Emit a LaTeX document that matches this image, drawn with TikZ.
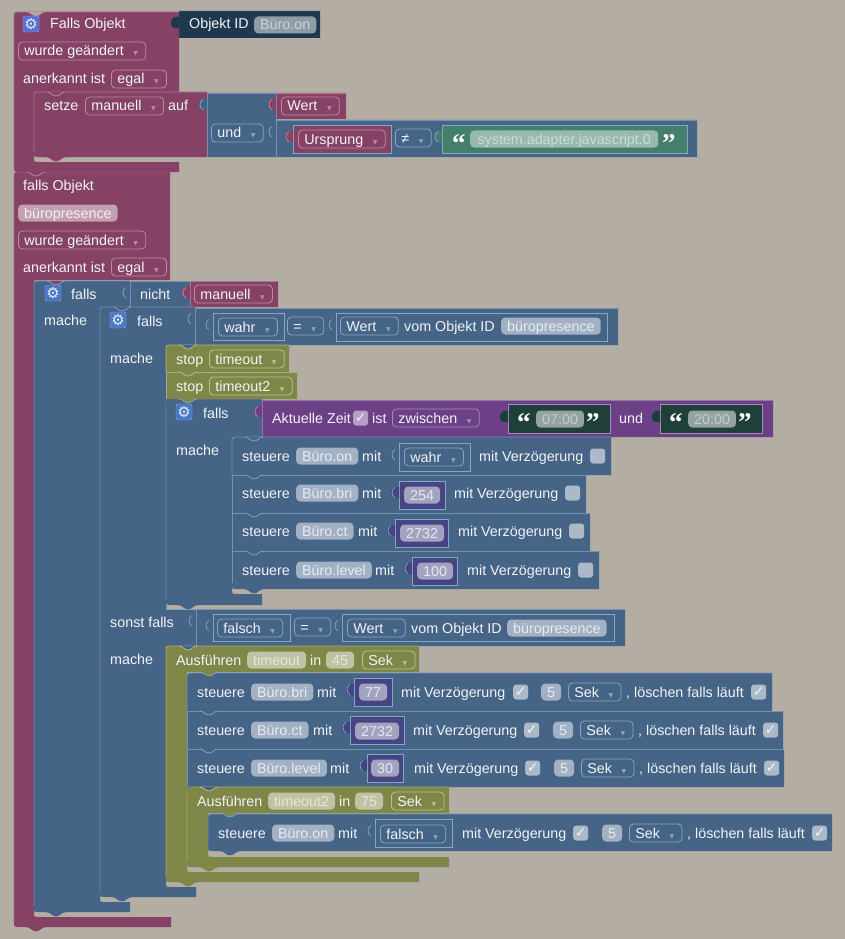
\documentclass[tikz,border=0pt]{standalone}
\usepackage{fontspec}
\setmainfont{Liberation Sans}
\newfontfamily\symfont{DejaVu Sans}
\newfontfamily\quotefont{Liberation Serif}[BoldFont={Liberation Serif Bold}]
\definecolor{bgc}{HTML}{B3ADA3}
\definecolor{mrn}{HTML}{854264}
\definecolor{mrnhi}{HTML}{B98CA3}
\definecolor{blu}{HTML}{456486}
\definecolor{bluhi}{HTML}{86A6C6}
\definecolor{oli}{HTML}{7F8748}
\definecolor{olihi}{HTML}{BCC08E}
\definecolor{nvy}{HTML}{1F3850}
\definecolor{nvyhi}{HTML}{2A4560}
\definecolor{pur}{HTML}{6C4087}
\definecolor{purhi}{HTML}{A68ABB}
\definecolor{grn}{HTML}{437F6B}
\definecolor{dgr}{HTML}{1F4039}
\definecolor{ind}{HTML}{454584}
\definecolor{ddarrow}{HTML}{86A6C6}
\definecolor{gearm}{HTML}{5A6FCF}
\definecolor{gearb}{HTML}{4A78C4}
\newcommand{\ddmark}{\hspace{8pt}\makebox[8pt]{\textcolor{ddarrow}{\symfont\fontsize{6}{6}\selectfont ▼}}}
\tikzset{
  every node/.append style={font=\fontsize{14.3}{16}\selectfont},
  lbl/.style={anchor=west,inner sep=0pt,text=white!93!blu,text height=11.5pt,text depth=1.5pt},
  ddown/.style={anchor=west,inner xsep=6pt,inner ysep=2.5pt,rounded corners=4pt,draw=#1,line width=0.8pt,
    text=white!93!blu,text height=11.5pt,text depth=1.5pt,execute at begin node={\colorlet{ddarrow}{#1}}},
  chip/.style 2 args={anchor=west,inner xsep=6pt,inner ysep=2pt,rounded corners=4pt,fill=#1,text=#2,text height=11.5pt,text depth=1.5pt},
  chk/.style={anchor=west,minimum size=15pt,inner sep=0pt,rounded corners=3pt,fill=#1,text=white!85!#1,font=\symfont\fontsize{14}{14}\selectfont},
  gear/.style={minimum size=16pt,inner sep=0pt,rounded corners=2pt,fill=#1,draw=white!35!#1,text=white!85!#1,font=\symfont\fontsize{15}{15}\selectfont},
  quote/.style={anchor=base west,inner sep=0pt,text=white,font=\quotefont\bfseries\fontsize{27}{27}\selectfont}
}
\colorlet{chipblu}{white!50!blu}
\colorlet{chipmrn}{white!50!mrn}
\colorlet{chipoli}{white!50!oli}
\colorlet{chipind}{white!50!ind}
\colorlet{chipnvy}{white!50!nvy}
\colorlet{chipgrn}{white!45!grn}
\colorlet{chipdgr}{white!52!dgr}
\colorlet{chkblu}{white!55!blu}
\colorlet{chkpur}{white!50!pur}
\tikzset{
  chbl/.style={chip={chipblu}{white!75!chipblu}},
  chmr/.style={chip={chipmrn}{white!85!chipmrn}},
  chol/.style={chip={chipoli}{white!60!chipoli}},
  chin/.style={chip={chipind}{white!75!chipind}},
  chnv/.style={chip={chipnvy}{white!55!chipnvy}},
  chgr/.style={chip={chipgrn}{white!50!chipgrn}},
  chdg/.style={chip={chipdgr}{white!45!chipdgr}}
}
% block with a statement input: colour, x1, y1, top right, top bottom, column x, bar top, bar right, bar bottom
\newcommand{\cblock}[9]{
  \fill [#1] (#2,#3+6) .. controls (#2,#3) .. (#2+6,#3) -- (#4,#3) -- (#4,#5) -- (#6,#5) -- (#6,#7-5)
    .. controls (#6,#7) .. (#6+5,#7) -- (#8,#7) -- (#8,#9) -- (#2+6,#9) .. controls (#2,#9) .. (#2,#9-6) -- cycle;
  \draw [#1hi!60!#1,line width=0.8pt] (#2,#9-6) -- (#2,#3+6) .. controls (#2,#3) .. (#2+6,#3) -- (#4,#3);
  \draw [#1hi!60!#1,line width=0.8pt] (#6,#5) -- (#6,#7-5);
}
% plain row: colour, x1, y1, x2, y2, top corner, bottom corner
\newcommand{\rowblock}[7]{
  \fill [#1] (#2,#3+#6) .. controls (#2,#3) .. (#2+#6,#3) -- (#4,#3) -- (#4,#5) -- (#2+#7,#5) .. controls (#2,#5) .. (#2,#5-#7) -- cycle;
  \draw [#1hi!70!#1,line width=0.8pt] (#2,#5-#7) -- (#2,#3+#6) .. controls (#2,#3) .. (#2+#6,#3) -- (#4,#3);
}
% value box: fill, stroke, x1, y1, x2, y2
\newcommand{\vblock}[6]{
  \filldraw [fill=#1,draw=#2,line width=0.8pt] (#3,#4) rectangle (#5,#6);
}
% left plug of a value: fill, stroke, x, y
\newcommand{\plug}[4]{
  \fill [#1] (#3,#4-7) .. controls (#3-6,#4-8) and (#3-8,#4-5) .. (#3-8,#4-1) .. controls (#3-8,#4+3) and (#3-6,#4+5) .. (#3,#4+4) -- cycle;
  \draw [#2,line width=0.7pt] (#3-4,#4-6.5) .. controls (#3-8,#4-5) and (#3-8,#4+2) .. (#3-4,#4+4);
}
% bump under a block: fill, stroke, centre x, y
\newcommand{\tabbump}[4]{
  \fill [#1] (#3-9,#4) .. controls (#3-5,#4) and (#3-4,#4+4) .. (#3,#4+4) .. controls (#3+4,#4+4) and (#3+5,#4) .. (#3+9,#4) -- cycle;
  \draw [#2,line width=0.7pt] (#3-9,#4) .. controls (#3-5,#4) and (#3-4,#4+4) .. (#3,#4+4) .. controls (#3+4,#4+4) and (#3+5,#4) .. (#3+9,#4);
}
\begin{document}
\begin{tikzpicture}[x=1pt,y=-1pt]
\useasboundingbox (0,0) rectangle (845,939);
\fill [bgc] (0,0) rectangle (845,939);
% second trigger
\cblock{mrn}{14}{172}{170}{280}{34}{917}{171}{927}
\tabbump{mrn}{mrn}{36}{927}
\node [lbl] (fallsObj) at (23,185) {falls Objekt};
\node [chmr] (chipPres) at (18,213) {büropresence};
\node [ddown=mrnhi] (ddGeaend2) at (18,240) {wurde geändert\ddmark};
\node [lbl] (anerk2) at (23,267) {anerkannt ist};
\node [ddown=mrnhi] (ddEgal2) at (111,267) {egal\ddmark};
% first trigger
\cblock{mrn}{14}{12}{179}{92}{34}{162}{179}{172}
\tabbump{bgc}{mrnhi}{36}{12}
\tabbump{mrn}{mrnhi}{36}{172}
\node [gear=gearm] (gearA) at (31,24) {⚙};
\node [lbl] (fallsA) at (50,24) {Falls Objekt};
\rowblock{nvy}{179}{11}{320}{38}{0}{0}
\plug{nvy}{nvy}{179}{24}
\node [lbl] (objId) at (189,24) {Objekt ID};
\node [chnv] (chipOn) at (254,25) {Büro.on};
\node [ddown=mrnhi] (ddGeaend1) at (18,51) {wurde geändert\ddmark};
\node [lbl] (anerk1) at (23,79) {anerkannt ist};
\node [ddown=mrnhi] (ddEgal1) at (111,79) {egal\ddmark};
\rowblock{mrn}{34}{92}{207}{157}{6}{6}
\tabbump{mrn}{mrnhi}{56}{92}
\tabbump{mrn}{mrn}{56}{157}
\node [lbl] (setze) at (44,106) {setze};
\node [ddown=mrnhi] (ddManuell1) at (85,106) {manuell\ddmark};
\node [lbl] (auf) at (168,106) {auf};
\rowblock{blu}{207}{93}{276}{157}{0}{0}
\plug{blu}{bluhi}{207}{106}
\node [ddown=bluhi] (ddUnd) at (211,133) {und\ddmark};
\rowblock{mrn}{276}{93}{346}{119}{0}{0}
\plug{mrn}{mrnhi}{276}{106}
\node [ddown=mrnhi] (ddWert1) at (281,106) {Wert\ddmark};
\rowblock{blu}{276}{120}{697}{157}{0}{0}
\plug{blu}{bluhi}{276}{133}
\vblock{mrn}{bluhi}{293}{125}{391}{153}
\plug{mrn}{mrnhi}{293}{138}
\node [ddown=mrnhi] (ddUrsprung) at (298,139) {Ursprung\ddmark};
\node [ddown=bluhi] (ddNe) at (395,138) {≠\ddmark};
\vblock{grn}{bluhi}{442}{125}{687}{153}
\plug{grn}{bluhi}{442}{138}
\node [quote] (qA1) at (452,152) {“};
\node [chgr,minimum width=188pt] (chipSys) at (470,139) {system.adapter.javascript.0};
\node [quote] (qA2) at (662,152) {”};
% outer falls
\cblock{blu}{34}{281}{130}{307}{100}{902}{130}{912}
\tabbump{mrn}{bluhi}{56}{281}
\tabbump{blu}{blu}{56}{912}
\node [gear=gearb] (gearB) at (53,293) {⚙};
\node [lbl] (fallsB) at (71,294) {falls};
\rowblock{blu}{130}{281}{190}{307}{0}{0}
\plug{blu}{bluhi}{130}{294}
\node [lbl] (nicht) at (140,294) {nicht};
\rowblock{mrn}{190}{281}{278}{307}{0}{0}
\plug{mrn}{mrnhi}{190}{294}
\node [ddown=mrnhi] (ddManuell2) at (194,294) {manuell\ddmark};
\node [lbl] (macheB) at (44,320) {mache};
% middle falls
\cblock{blu}{100}{307}{195}{345}{166}{887}{196}{897}
\tabbump{blu}{bluhi}{122}{307}
\tabbump{blu}{blu}{122}{897}
\fill [blu] (166,609) rectangle (196,646);
\draw [bluhi,line width=0.8pt] (166,609) -- (196,609);
\node [gear=gearb] (gearC) at (118,320) {⚙};
\node [lbl] (fallsC) at (137,321) {falls};
\rowblock{blu}{195}{308}{618}{345}{0}{0}
\plug{blu}{bluhi}{195}{320}
\vblock{blu}{bluhi}{213}{313}{284}{340}
\plug{blu}{bluhi}{213}{326}
\node [ddown=bluhi] (ddWahr1) at (218,327) {wahr\ddmark};
\node [ddown=bluhi] (ddEq1) at (287,326) {=\ddmark};
\vblock{blu}{bluhi}{336}{313}{607}{341}
\plug{blu}{bluhi}{336}{326}
\node [ddown=bluhi] (ddWert2) at (340,326) {Wert\ddmark};
\node [lbl] (vomId1) at (404,326) {vom Objekt ID};
\node [chbl] (chipPres1) at (501,326) {büropresence};
\node [lbl] (macheC) at (110,358) {mache};
% inner falls
\cblock{blu}{166}{399}{262}{437}{232}{594}{262}{605}
\fill [blu] (166,399) rectangle (174,407);
\tabbump{blu}{blu}{188}{605}
\node [gear=gearb] (gearD) at (184,412) {⚙};
\node [lbl] (fallsD) at (203,413) {falls};
\rowblock{oli}{166}{345}{289}{372}{6}{0}
\tabbump{blu}{olihi}{188}{345}
\node [lbl] (stop1) at (176,359) {stop};
\node [ddown=olihi] (ddTimeout1) at (209,359) {timeout\ddmark};
\rowblock{oli}{166}{372}{297}{399}{0}{0}
\tabbump{oli}{olihi}{188}{372}
\tabbump{oli}{bluhi}{188}{399}
\node [lbl] (stop2) at (176,386) {stop};
\node [ddown=olihi] (ddTimeout2) at (209,386) {timeout2\ddmark};
\rowblock{pur}{262}{400}{773}{437}{0}{0}
\plug{pur}{purhi}{262}{413}
\node [lbl] (zeit) at (272,418) {Aktuelle Zeit};
\node [chk=chkpur] (chkZeit) at (353,418) {✓};
\node [lbl] (ist) at (372,418) {ist};
\node [ddown=purhi] (ddZwischen) at (392,418) {zwischen\ddmark};
\vblock{dgr}{purhi}{508}{404}{610}{433}
\plug{dgr}{dgr}{508}{418}
\node [quote] (qB1) at (517,431) {“};
\node [chdg] (chip0700) at (536,419) {07:00};
\node [quote] (qB2) at (586,431) {”};
\node [lbl] (undB) at (619,418) {und};
\vblock{dgr}{purhi}{660}{404}{762}{433}
\plug{dgr}{dgr}{660}{418}
\node [quote] (qC1) at (669,431) {“};
\node [chdg] (chip2000) at (688,419) {20:00};
\node [quote] (qC2) at (738,431) {”};
\node [lbl] (macheD) at (176,450) {mache};
% steuere rows under inner falls
\rowblock{blu}{232}{437}{611}{475}{6}{0}
\tabbump{blu}{bluhi}{254}{437}
\node [lbl] (st1) at (242,456) {steuere};
\node [chbl] (chipOn1) at (296,456) {Büro.on};
\node [lbl] (mit1) at (362,456) {mit};
\vblock{blu}{bluhi}{399}{443}{470}{471}
\plug{blu}{bluhi}{399}{456}
\node [ddown=bluhi] (ddWahr2) at (404,457) {wahr\ddmark};
\node [lbl] (vz1) at (479,456) {mit Verzögerung};
\node [chk=chkblu] (chk1) at (590,456) {};
\rowblock{blu}{232}{475}{586}{513}{0}{0}
\tabbump{blu}{bluhi}{254}{475}
\node [lbl] (st2) at (242,493) {steuere};
\node [chbl] (chipBri1) at (296,493) {Büro.bri};
\node [lbl] (mit2) at (362,493) {mit};
\vblock{ind}{bluhi}{399}{481}{445}{509}
\plug{ind}{bluhi}{399}{494}
\node [chin] (num254) at (404,495) {254};
\node [lbl] (vz2) at (454,493) {mit Verzögerung};
\node [chk=chkblu] (chk2) at (565,493) {};
\rowblock{blu}{232}{513}{590}{551}{0}{0}
\tabbump{blu}{bluhi}{254}{513}
\node [lbl] (st3) at (242,531) {steuere};
\node [chbl] (chipCt1) at (296,531) {Büro.ct};
\node [lbl] (mit3) at (358,531) {mit};
\vblock{ind}{bluhi}{395}{519}{448}{547}
\plug{ind}{bluhi}{395}{532}
\node [chin] (num2732a) at (400,533) {2732};
\node [lbl] (vz3) at (458,531) {mit Verzögerung};
\node [chk=chkblu] (chk3) at (569,531) {};
\rowblock{blu}{232}{551}{599}{589}{0}{6}
\tabbump{blu}{bluhi}{254}{551}
\tabbump{blu}{blu}{254}{589}
\node [lbl] (st4) at (242,570) {steuere};
\node [chbl] (chipLvl1) at (296,570) {Büro.level};
\node [lbl] (mit4) at (375,570) {mit};
\vblock{ind}{bluhi}{412}{557}{457}{585}
\plug{ind}{bluhi}{412}{570}
\node [chin] (num100) at (417,571) {100};
\node [lbl] (vz4) at (467,570) {mit Verzögerung};
\node [chk=chkblu] (chk4) at (578,570) {};
% sonst falls
\node [lbl] (sonst) at (110,622) {sonst falls};
\rowblock{blu}{196}{609}{625}{646}{0}{0}
\plug{blu}{bluhi}{196}{622}
\vblock{blu}{bluhi}{213}{614}{290}{641}
\plug{blu}{bluhi}{213}{627}
\node [ddown=bluhi] (ddFalsch1) at (217,628) {falsch\ddmark};
\node [ddown=bluhi] (ddEq2) at (294,627) {=\ddmark};
\vblock{blu}{bluhi}{342}{614}{614}{641}
\plug{blu}{bluhi}{342}{627}
\node [ddown=bluhi] (ddWert3) at (347,628) {Wert\ddmark};
\node [lbl] (vomId2) at (411,628) {vom Objekt ID};
\node [chbl] (chipPres2) at (507,628) {büropresence};
\node [lbl] (macheE) at (110,659) {mache};
% first timeout
\cblock{oli}{166}{646}{419}{672}{187}{872}{419}{882}
\tabbump{blu}{olihi}{188}{646}
\tabbump{oli}{oli}{188}{882}
\node [lbl] (ausf1) at (176,660) {Ausführen};
\node [chol] (chipT1) at (247,660) {timeout};
\node [lbl] (in1) at (310,660) {in};
\node [chol] (chip45) at (326,660) {45};
\node [ddown=olihi] (ddSek1) at (362,660) {Sek\ddmark};
\rowblock{blu}{187}{673}{772}{711}{6}{0}
\tabbump{oli}{bluhi}{209}{672}
\node [lbl] (sa) at (197,692) {steuere};
\node [chbl] (chipBri2) at (251,692) {Büro.bri};
\node [lbl] (mita) at (317,692) {mit};
\vblock{ind}{bluhi}{354}{678}{392}{706}
\plug{ind}{bluhi}{354}{691}
\node [chin] (num77) at (359,692) {77};
\node [lbl] (vza) at (401,692) {mit Verzögerung};
\node [chk=chkblu] (chka) at (513,692) {✓};
\node [chbl] (num5a) at (541,692) {5};
\node [ddown=bluhi] (ddSeka) at (568,692) {Sek\ddmark};
\node [lbl] (loa) at (626,692) {, löschen falls läuft};
\node [chk=chkblu] (chkla) at (751,692) {✓};
\rowblock{blu}{187}{711}{783}{749}{0}{0}
\tabbump{blu}{bluhi}{209}{711}
\node [lbl] (sb) at (197,730) {steuere};
\node [chbl] (chipCt2) at (251,730) {Büro.ct};
\node [lbl] (mitb) at (313,730) {mit};
\vblock{ind}{bluhi}{350}{716}{404}{744}
\plug{ind}{bluhi}{350}{729}
\node [chin] (num2732b) at (355,731) {2732};
\node [lbl] (vzb) at (413,730) {mit Verzögerung};
\node [chk=chkblu] (chkb) at (524,730) {✓};
\node [chbl] (num5b) at (553,730) {5};
\node [ddown=bluhi] (ddSekb) at (580,730) {Sek\ddmark};
\node [lbl] (lob) at (638,730) {, löschen falls läuft};
\node [chk=chkblu] (chklb) at (763,730) {✓};
\rowblock{blu}{187}{749}{784}{787}{0}{0}
\tabbump{blu}{bluhi}{209}{749}
\node [lbl] (sc) at (197,768) {steuere};
\node [chbl] (chipLvl2) at (251,768) {Büro.level};
\node [lbl] (mitc) at (330,768) {mit};
\vblock{ind}{bluhi}{367}{754}{403}{782}
\plug{ind}{bluhi}{367}{767}
\node [chin] (num30) at (371,768) {30};
\node [lbl] (vzc) at (414,768) {mit Verzögerung};
\node [chk=chkblu] (chkc) at (525,768) {✓};
\node [chbl] (num5c) at (554,768) {5};
\node [ddown=bluhi] (ddSekc) at (581,768) {Sek\ddmark};
\node [lbl] (loc) at (639,768) {, löschen falls läuft};
\node [chk=chkblu] (chklc) at (764,768) {✓};
% second timeout
\cblock{oli}{187}{787}{449}{813}{208}{857}{449}{867}
\fill [oli] (187,787) rectangle (195,795);
\tabbump{blu}{olihi}{209}{787}
\tabbump{oli}{oli}{209}{867}
\node [lbl] (ausf2) at (197,801) {Ausführen};
\node [chol] (chipT2) at (268,801) {timeout2};
\node [lbl] (in2) at (339,801) {in};
\node [chol] (chip75) at (355,801) {75};
\node [ddown=olihi] (ddSek2) at (391,801) {Sek\ddmark};
\rowblock{blu}{208}{814}{832}{851}{6}{6}
\tabbump{oli}{bluhi}{230}{813}
\tabbump{blu}{blu}{230}{851}
\node [lbl] (sd) at (218,833) {steuere};
\node [chbl] (chipOn2) at (272,833) {Büro.on};
\node [lbl] (mitd) at (338,833) {mit};
\vblock{blu}{bluhi}{375}{819}{452}{847}
\plug{blu}{bluhi}{375}{832}
\node [ddown=bluhi] (ddFalsch2) at (380,834) {falsch\ddmark};
\node [lbl] (vzd) at (462,833) {mit Verzögerung};
\node [chk=chkblu] (chkd) at (573,833) {✓};
\node [chbl] (num5d) at (602,833) {5};
\node [ddown=bluhi] (ddSekd) at (629,833) {Sek\ddmark};
\node [lbl] (lod) at (687,833) {, löschen falls läuft};
\node [chk=chkblu] (chkld) at (812,833) {✓};
\end{tikzpicture}
\end{document}
